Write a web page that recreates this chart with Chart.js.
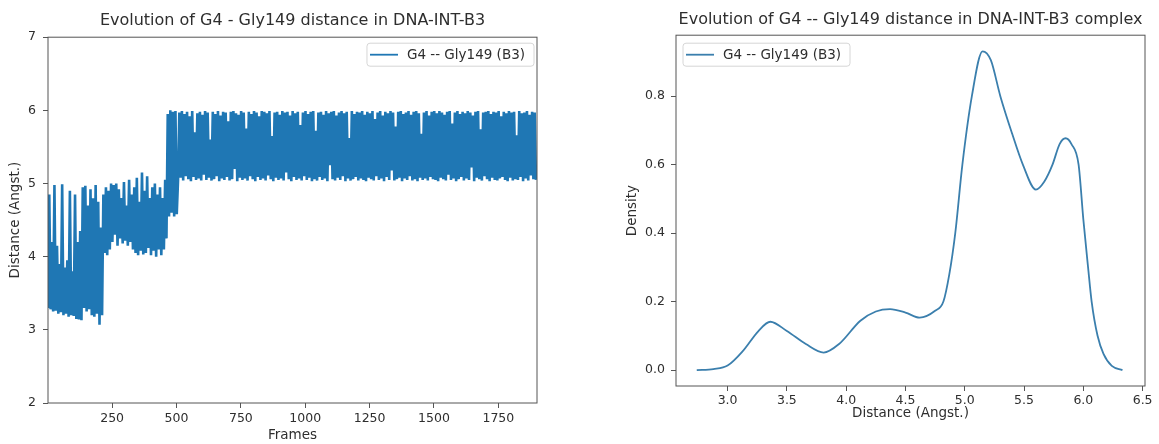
<!DOCTYPE html>
<html>
<head>
<meta charset="utf-8">
<script src="https://cdn.jsdelivr.net/npm/chart.js@4.4.1/dist/chart.umd.min.js"></script>
<style>
  html, body { margin: 0; padding: 0; background: #fff; }
  #wrap { position: relative; width: 1159px; height: 444px; overflow: hidden; }
  .panel { position: absolute; top: 0; height: 444px; }
  #left-panel { left: 0; width: 580px; }
  #right-panel { left: 580px; width: 579px; }
</style>
</head>
<body>
<div id="wrap">
  <div class="panel" id="left-panel"><canvas id="frames-chart" width="580" height="444"></canvas></div>
  <div class="panel" id="right-panel"><canvas id="density-chart" width="579" height="444"></canvas></div>
</div>
<script>
// left: distance per frame (one value every 5 frames)
const seriesLabel = "G4 -- Gly149 (B3)";
const frameStart = 1;
const frameStep = 5;
const distance = [
  // frames 1-211
  3.30, 4.85, 3.28, 4.20, 3.25, 4.98, 3.26, 4.15, 3.22, 3.90,
  3.24, 4.99, 3.20, 3.85, 3.22, 3.95, 3.18, 4.90, 3.20, 3.80,
  3.19, 4.85, 3.15, 4.20, 3.14, 4.35, 3.13, 4.95, 3.30, 4.97,
  3.25, 4.70, 3.28, 4.92, 3.20, 4.80, 3.18, 4.98, 3.22, 4.75,
  3.07, 4.40, 3.20,
  // frames 216-461
  4.85, 4.05, 4.95, 4.02, 4.90, 4.10, 5.00, 4.20, 4.98, 4.30,
  5.00, 4.15, 4.92, 4.25, 4.80, 4.18, 5.02, 4.22, 4.70, 4.15,
  5.05, 4.20, 4.85, 4.10, 4.95, 4.05, 5.08, 4.02, 4.75, 4.08,
  5.15, 4.03, 4.90, 4.05, 5.10, 4.12, 4.80, 4.02, 4.95, 4.08,
  5.00, 4.00, 4.85, 4.10, 4.95, 4.02, 4.80, 4.10, 5.05, 4.25,
  // frames 466-501
  5.95, 4.55, 6.00, 4.60, 5.98, 4.55, 5.99, 4.58,
  // frames 506-1896
  5.05, 5.97, 5.08, 5.99, 5.04, 5.95, 5.10, 5.98, 5.06, 5.92, 5.03, 5.99, 5.09, 5.70, 5.05, 5.96, 5.07, 5.98, 5.04, 5.94,
  5.12, 5.99, 5.05, 5.97, 5.08, 5.60, 5.04, 5.98, 5.06, 5.95, 5.10, 5.99, 5.03, 5.93, 5.07, 5.98, 5.05, 5.97, 5.09, 5.85,
  5.04, 5.98, 5.06, 5.99, 5.20, 5.96, 5.03, 5.94, 5.08, 5.99, 5.05, 5.97, 5.07, 5.75, 5.04, 5.98, 5.10, 5.95, 5.06, 5.99,
  5.03, 5.97, 5.09, 5.92, 5.05, 5.99, 5.07, 5.98, 5.04, 5.96, 5.11, 5.99, 5.06, 5.65, 5.03, 5.97, 5.08, 5.98, 5.05, 5.94,
  5.07, 5.99, 5.04, 5.97, 5.15, 5.98, 5.06, 5.93, 5.03, 5.99, 5.09, 5.96, 5.05, 5.98, 5.07, 5.80, 5.04, 5.97, 5.10, 5.99,
  5.05, 5.95, 5.08, 5.98, 5.03, 5.99, 5.06, 5.72, 5.04, 5.97, 5.09, 5.98, 5.05, 5.94, 5.07, 5.99, 5.03, 5.96, 5.25, 5.98,
  5.06, 5.99, 5.04, 5.93, 5.08, 5.97, 5.05, 5.99, 5.10, 5.96, 5.03, 5.98, 5.07, 5.62, 5.04, 5.99, 5.06, 5.95, 5.09, 5.98,
  5.04, 5.97, 5.07, 5.99, 5.05, 5.94, 5.03, 5.98, 5.08, 5.96, 5.06, 5.99, 5.04, 5.88, 5.10, 5.97, 5.05, 5.99, 5.07, 5.93,
  5.03, 5.98, 5.09, 5.96, 5.05, 5.99, 5.18, 5.97, 5.04, 5.78, 5.06, 5.98, 5.08, 5.99, 5.03, 5.95, 5.07, 5.97, 5.05, 5.99,
  5.10, 5.94, 5.04, 5.98, 5.06, 5.99, 5.03, 5.96, 5.08, 5.68, 5.05, 5.97, 5.07, 5.99, 5.04, 5.93, 5.09, 5.98, 5.06, 5.99,
  5.05, 5.96, 5.03, 5.99, 5.08, 5.97, 5.06, 5.94, 5.04, 5.98, 5.12, 5.99, 5.05, 5.82, 5.07, 5.97, 5.03, 5.99, 5.06, 5.95,
  5.09, 5.98, 5.04, 5.96, 5.07, 5.99, 5.05, 5.97, 5.22, 5.93, 5.03, 5.98, 5.08, 5.99, 5.06, 5.74, 5.04, 5.97, 5.10, 5.98,
  5.06, 5.99, 5.03, 5.95, 5.08, 5.98, 5.05, 5.97, 5.04, 5.99, 5.07, 5.92, 5.09, 5.98, 5.05, 5.96, 5.03, 5.99, 5.08, 5.97,
  5.04, 5.98, 5.06, 5.66, 5.05, 5.99, 5.09, 5.96, 5.03, 5.97, 5.07, 5.99, 5.04, 5.94, 5.11, 5.98, 5.06, 5.97, 5.05
];
const frameTicks = [250, 500, 750, 1000, 1250, 1500, 1750];
const distanceTicks = [2, 3, 4, 5, 6, 7];

// right: density curve
const densityX = [2.74, 2.88, 3.00, 3.13, 3.26, 3.36, 3.50, 3.66, 3.81, 3.94,
  4.12, 4.25, 4.37, 4.50, 4.62, 4.75, 4.82, 4.87, 4.92, 4.98,
  5.06, 5.15, 5.22, 5.30, 5.40, 5.49, 5.60, 5.67, 5.74, 5.80,
  5.85, 5.90, 5.96, 6.00, 6.04, 6.07, 6.12, 6.17, 6.24, 6.33];
const densityY = [0.000, 0.003, 0.013, 0.056, 0.114, 0.141, 0.114, 0.076, 0.051, 0.076,
  0.144, 0.171, 0.178, 0.168, 0.153, 0.173, 0.200, 0.280, 0.400, 0.600,
  0.800, 0.931, 0.905, 0.800, 0.690, 0.600, 0.527, 0.550, 0.600, 0.660,
  0.677, 0.660, 0.600, 0.440, 0.300, 0.200, 0.100, 0.047, 0.012, 0.000];
const densityXTicks = [3.0, 3.5, 4.0, 4.5, 5.0, 5.5, 6.0, 6.5];
const densityYTicks = [0.0, 0.2, 0.4, 0.6, 0.8];

const fontFamily = "'DejaVu Sans', 'Liberation Sans', sans-serif";
const textColor = "#2e2e2e";
const spineColor = "#555";

// matplotlib-like frame round the plot area
const frameBox = {
  id: "frameBox",
  afterDatasetsDraw(chart) {
    const { ctx, chartArea: a } = chart;
    ctx.save();
    ctx.strokeStyle = spineColor;
    ctx.lineWidth = 1;
    ctx.strokeRect(a.left, a.top, a.right - a.left, a.bottom - a.top);
    ctx.restore();
  }
};

// legend with a box, drawn inside the plot area
const boxLegend = {
  id: "boxLegend",
  afterDatasetsDraw(chart, args, opts) {
    const { ctx, chartArea } = chart;
    const ds = chart.data.datasets[0];
    ctx.save();
    ctx.font = `${opts.fontSize}px ${fontFamily}`;
    const textW = ctx.measureText(ds.label).width;
    const w = 3 + 28 + 9 + textW + 9;
    const h = 23;
    const x = opts.align === "right" ? chartArea.right - opts.offsetX - w : chartArea.left + opts.offsetX;
    const y = chartArea.top + opts.offsetY;
    ctx.beginPath();
    ctx.roundRect(x, y, w, h, 3);
    ctx.fillStyle = "rgba(255,255,255,0.85)";
    ctx.fill();
    ctx.strokeStyle = "#d6d6d6";
    ctx.lineWidth = 1;
    ctx.stroke();
    ctx.beginPath();
    ctx.moveTo(x + 3, y + h / 2);
    ctx.lineTo(x + 31, y + h / 2);
    ctx.strokeStyle = ds.borderColor;
    ctx.lineWidth = opts.handleWidth;
    ctx.stroke();
    ctx.fillStyle = textColor;
    ctx.textBaseline = "middle";
    ctx.fillText(ds.label, x + 40, y + h / 2 + 0.5);
    ctx.restore();
  }
};

function tickSetter(values) {
  return (axis) => { axis.ticks = values.map(v => ({ value: v })); };
}

function axisGrid() {
  return { display: true, drawOnChartArea: false, drawTicks: true, tickLength: 5, color: spineColor };
}

// 左图：帧-距离
const distancePoints = distance.map((d, i) => ({ x: frameStart + i * frameStep, y: d }));

new Chart(document.getElementById("frames-chart").getContext("2d"), {
  type: "line",
  data: {
    datasets: [{
      label: seriesLabel,
      data: distancePoints,
      borderColor: "#1f77b4",
      borderWidth: 2.6,
      borderJoinStyle: "bevel",
      pointRadius: 0,
      tension: 0,
      fill: false
    }]
  },
  options: {
    responsive: false,
    animation: false,
    events: [],
    layout: { padding: { left: 0, right: 43, top: 0, bottom: 0 } },
    plugins: {
      legend: { display: false },
      tooltip: { enabled: false },
      title: {
        display: true,
        fullSize: false,
        text: "Evolution of G4 - Gly149 distance in DNA-INT-B3",
        color: textColor,
        font: { family: fontFamily, size: 16, weight: "normal" },
        padding: { top: 11, bottom: 7 }
      },
      boxLegend: { align: "right", offsetX: 3, offsetY: 6, fontSize: 13.5, handleWidth: 1.8 }
    },
    scales: {
      x: {
        type: "linear",
        min: 1,
        max: 1900,
        afterBuildTicks: tickSetter(frameTicks),
        afterFit: (a) => { a.height = 41; a.paddingLeft = 0; a.paddingRight = 0; },
        grid: axisGrid(),
        border: { display: false },
        ticks: {
          autoSkip: false, maxRotation: 0, padding: 3, color: textColor,
          font: { family: fontFamily, size: 12.5 },
          callback: (v) => String(v)
        },
        title: {
          display: true, text: "Frames", color: textColor,
          font: { family: fontFamily, size: 13.5 }, padding: { top: 0, bottom: 0 }
        }
      },
      y: {
        type: "linear",
        min: 2,
        max: 7,
        afterBuildTicks: tickSetter(distanceTicks),
        afterFit: (a) => { a.width = 48; a.paddingTop = 0; a.paddingBottom = 0; },
        grid: axisGrid(),
        border: { display: false },
        ticks: {
          autoSkip: false, padding: 7, color: textColor,
          font: { family: fontFamily, size: 12.5 },
          callback: (v) => String(v)
        },
        title: {
          display: true, text: "Distance (Angst.)", color: textColor,
          font: { family: fontFamily, size: 13.5 }, padding: { top: 7, bottom: 0 }
        }
      }
    }
  },
  plugins: [frameBox, boxLegend]
});

// 右图：密度曲线
const densityPoints = densityX.map((x, i) => ({ x: x, y: densityY[i] }));

new Chart(document.getElementById("density-chart").getContext("2d"), {
  type: "line",
  data: {
    datasets: [{
      label: seriesLabel,
      data: densityPoints,
      borderColor: "#3b7fad",
      borderWidth: 1.8,
      pointRadius: 0,
      cubicInterpolationMode: "monotone",
      fill: false
    }]
  },
  options: {
    responsive: false,
    animation: false,
    events: [],
    layout: { padding: { left: 0, right: 14, top: 0, bottom: 0 } },
    plugins: {
      legend: { display: false },
      tooltip: { enabled: false },
      title: {
        display: true,
        fullSize: false,
        text: "Evolution of G4 -- Gly149 distance in DNA-INT-B3 complex",
        color: textColor,
        font: { family: fontFamily, size: 16, weight: "normal" },
        padding: { top: 10, bottom: 6 }
      },
      boxLegend: { align: "left", offsetX: 7, offsetY: 8, fontSize: 13.5, handleWidth: 1.8 }
    },
    scales: {
      x: {
        type: "linear",
        min: 2.565,
        max: 6.52,
        afterBuildTicks: tickSetter(densityXTicks),
        afterFit: (a) => { a.height = 58; a.paddingLeft = 0; a.paddingRight = 0; },
        grid: axisGrid(),
        border: { display: false },
        ticks: {
          autoSkip: false, maxRotation: 0, padding: 2, color: textColor,
          font: { family: fontFamily, size: 12.5 },
          callback: (v) => Number(v).toFixed(1)
        },
        title: {
          display: true, text: "Distance (Angst.)", color: textColor,
          font: { family: fontFamily, size: 13.5 }, padding: { top: 0, bottom: 22 }
        }
      },
      y: {
        type: "linear",
        min: -0.0466,
        max: 0.978,
        afterBuildTicks: tickSetter(densityYTicks),
        afterFit: (a) => { a.width = 96; a.paddingTop = 0; a.paddingBottom = 0; },
        grid: axisGrid(),
        border: { display: false },
        ticks: {
          autoSkip: false, padding: 6, color: textColor,
          font: { family: fontFamily, size: 12.5 },
          callback: (v) => Number(v).toFixed(1)
        },
        title: {
          display: true, text: "Density", color: textColor,
          font: { family: fontFamily, size: 13.5 }, padding: { top: 44, bottom: 0 }
        }
      }
    }
  },
  plugins: [frameBox, boxLegend]
});
</script>
</body>
</html>
